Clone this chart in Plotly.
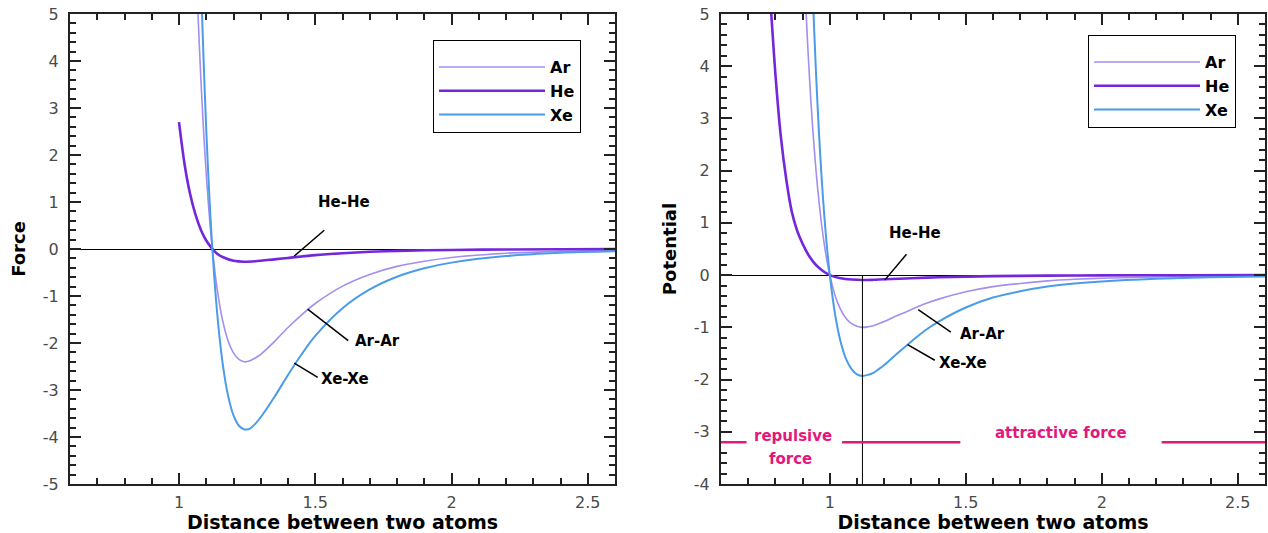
import plotly.graph_objects as go

# ---------------- data ----------------
series_names = ["Ar", "He", "Xe"]
colors = {"Ar": "#A48EEF", "He": "#7327DA", "Xe": "#4B9CE8"}
widths = {"Ar": 1.6, "He": 2.6, "Xe": 2.0}

# Force panel
force_x_arxe = [1.06, 1.07, 1.08, 1.09, 1.10, 1.11, 1.12, 1.14, 1.16, 1.18, 1.20, 1.22, 1.24, 1.26,
                1.28, 1.30, 1.35, 1.40, 1.45, 1.50, 1.60, 1.70, 1.80, 1.90, 2.00, 2.20, 2.40, 2.60]
force_ar = [6.54, 4.97, 3.65, 2.53, 1.59, 0.80, 0.14, -0.85, -1.52, -1.95, -2.21, -2.35, -2.40, -2.38,
            -2.32, -2.24, -1.97, -1.67, -1.40, -1.16, -0.79, -0.54, -0.37, -0.26, -0.18, -0.09, -0.05, -0.03]
force_xe = [10.47, 7.96, 5.83, 4.05, 2.54, 1.28, 0.23, -1.36, -2.43, -3.12, -3.54, -3.76, -3.84, -3.82,
            -3.72, -3.58, -3.15, -2.68, -2.24, -1.85, -1.26, -0.86, -0.59, -0.41, -0.29, -0.15, -0.08, -0.05]
force_x_he = [1.00, 1.02, 1.04, 1.06, 1.08, 1.10, 1.12, 1.14, 1.16, 1.20, 1.24, 1.28, 1.35, 1.40,
              1.50, 1.60, 1.70, 1.80, 2.00, 2.20, 2.60]
force_he = [2.70, 1.82, 1.19, 0.74, 0.41, 0.18, 0.02, -0.10, -0.17, -0.25, -0.27, -0.26, -0.22, -0.19,
            -0.13, -0.09, -0.06, -0.04, -0.02, -0.01, 0.00]

# Potential panel
pot_x_arxe = [0.90, 0.91, 0.92, 0.93, 0.94, 0.95, 0.96, 0.97, 0.98, 0.99, 1.00, 1.02, 1.04, 1.06, 1.08,
              1.10, 1.12, 1.14, 1.16, 1.18, 1.20, 1.25, 1.30, 1.35, 1.40, 1.50, 1.60, 1.70, 1.80, 1.90,
              2.00, 2.20, 2.40, 2.60]
pot_ar = [6.64, 5.36, 4.28, 3.37, 2.61, 1.96, 1.42, 0.96, 0.58, 0.26, 0.00, -0.40, -0.66, -0.83, -0.93,
          -0.98, -1.00, -0.99, -0.97, -0.93, -0.89, -0.77, -0.66, -0.55, -0.46, -0.32, -0.22, -0.16, -0.11,
          -0.08, -0.06, -0.035, -0.02, -0.013]
pot_xe = [12.81, 10.34, 8.27, 6.51, 5.03, 3.79, 2.74, 1.86, 1.12, 0.51, 0.00, -0.77, -1.28, -1.61, -1.80,
          -1.90, -1.93, -1.91, -1.87, -1.80, -1.72, -1.49, -1.27, -1.06, -0.89, -0.62, -0.43, -0.31, -0.22,
          -0.16, -0.12, -0.07, -0.04, -0.025]
pot_x_he = [0.77, 0.78, 0.79, 0.80, 0.82, 0.84, 0.86, 0.88, 0.90, 0.92, 0.94, 0.96, 0.98, 1.00, 1.04,
            1.08, 1.12, 1.16, 1.20, 1.30, 1.40, 1.60, 1.80, 2.00, 2.30, 2.60]
pot_he = [6.5, 5.4, 4.6, 3.85, 2.65, 1.83, 1.22, 0.85, 0.60, 0.40, 0.25, 0.14, 0.06, 0.00, -0.06,
          -0.085, -0.095, -0.09, -0.08, -0.06, -0.04, -0.02, -0.01, -0.006, -0.002, -0.001]

# axis settings
x_range = [0.6, 2.6]
force_range = [-5, 5]
pot_range = [-4, 5]
force_ticks = [-5, -4, -3, -2, -1, 0, 1, 2, 3, 4, 5]
force_ticktext = ["-5", "-4", "-3", "-2", "-1", "0", "1", "2", "3", "4", "5"]
pot_ticks = [-4, -3, -2, -1, 0, 1, 2, 3, 4, 5]
pot_ticktext = ["-4", "-3", "-2", "-1", "0", "1", "2", "3", "4", "5"]
x_title = "Distance between two atoms"
force_title = "Force"
pot_title = "Potential"

# labels: (text, x, y, pointer x0, y0, x1, y1)
force_labels = [("He-He", 1.607, 1.0, 1.533, 0.40, 1.423, -0.15),
                ("Ar-Ar", 1.728, -1.95, 1.472, -1.28, 1.621, -1.95),
                ("Xe-Xe", 1.61, -2.77, 1.423, -2.43, 1.509, -2.73)]
pot_labels = [("He-He", 1.314, 0.80, 1.282, 0.40, 1.202, -0.096),
              ("Ar-Ar", 1.561, -1.12, 1.325, -0.66, 1.445, -1.09),
              ("Xe-Xe", 1.489, -1.69, 1.286, -1.33, 1.386, -1.63)]

# equilibrium marker and force regions on the potential panel
r_eq = 1.12
region_y = -3.2
region_segments = [(0.6, 0.694), (1.045, 1.48), (2.22, 2.6)]
region_texts = [("repulsive", 0.865, -3.09), ("force", 0.855, -3.53), ("attractive force", 1.85, -3.03)]
pink = "#E4177B"

# ---------------- figure ----------------
FONT = "DejaVu Sans"
fig = go.Figure()

force_data = {"Ar": (force_x_arxe, force_ar), "He": (force_x_he, force_he), "Xe": (force_x_arxe, force_xe)}
pot_data = {"Ar": (pot_x_arxe, pot_ar), "He": (pot_x_he, pot_he), "Xe": (pot_x_arxe, pot_xe)}

for name in series_names:
    xs, ys = force_data[name]
    fig.add_trace(go.Scatter(x=xs, y=ys, name=name, mode="lines",
                             line=dict(color=colors[name], width=widths[name], shape="spline", smoothing=0.8),
                             xaxis="x", yaxis="y", legend="legend"))
for name in series_names:
    xs, ys = pot_data[name]
    fig.add_trace(go.Scatter(x=xs, y=ys, name=name, mode="lines",
                             line=dict(color=colors[name], width=widths[name], shape="spline", smoothing=0.8),
                             xaxis="x2", yaxis="y2", legend="legend2"))

W, H = 1268, 533
left_dom = [70 / W, 615 / W]
right_dom = [721 / W, 1265 / W]
y_dom = [1 - 484 / H, 1 - 14 / H]

tickfont = dict(family=FONT, size=16, color="#4a4a4a")
titlefont = dict(family=FONT, size=19, color="black", weight="bold")
ytitlefont = dict(family=FONT, size=18, color="black", weight="bold")

def xaxis_cfg(domain, anchor):
    return dict(domain=domain, anchor=anchor, range=x_range, showgrid=False, zeroline=False,
                automargin=False,
                showline=True, linecolor="#222", linewidth=2, mirror="allticks",
                ticks="inside", ticklen=11, tickwidth=2, tickcolor="#222",
                tick0=0, dtick=0.5, tickfont=tickfont, ticklabelstandoff=3,
                minor=dict(ticks="inside", dtick=0.1, ticklen=6, tickwidth=1.5, tickcolor="#222"),
                title=dict(text=x_title, font=titlefont, standoff=0))

def yaxis_cfg(rng, anchor, title, tv, tt):
    return dict(domain=y_dom, anchor=anchor, range=rng, showgrid=False, automargin=False,
                zeroline=True, zerolinecolor="black", zerolinewidth=1,
                showline=True, linecolor="#222", linewidth=2, mirror="allticks",
                ticks="inside", ticklen=11, tickwidth=2, tickcolor="#222",
                tickmode="array", tickvals=tv, ticktext=tt, tickfont=tickfont, ticklabelstandoff=6,
                minor=dict(ticks="inside", dtick=0.2, tick0=0, ticklen=6, tickwidth=1.5, tickcolor="#222"),
                title=dict(text=title, font=ytitlefont, standoff=13))

legend_common = dict(bordercolor="black", borderwidth=1, bgcolor="white",
                     font=dict(family=FONT, size=16, color="black", weight="bold"),
                     title=dict(text=" ", font=dict(size=7)),
                     xanchor="left", yanchor="top", itemwidth=106, tracegroupgap=0)

shapes = []
annotations = []
for labels, xr, yr in ((force_labels, "x", "y"), (pot_labels, "x2", "y2")):
    for text, tx, ty, x0, y0, x1, y1 in labels:
        annotations.append(dict(text=text, x=tx, y=ty, xref=xr, yref=yr, showarrow=False,
                                font=dict(family=FONT, size=15, color="black", weight="bold")))
        shapes.append(dict(type="line", x0=x0, y0=y0, x1=x1, y1=y1, xref=xr, yref=yr,
                           line=dict(color="black", width=1.5)))

shapes.append(dict(type="line", x0=r_eq, x1=r_eq, y0=0, y1=pot_range[0], xref="x2", yref="y2",
                   line=dict(color="black", width=1)))
for a, b in region_segments:
    shapes.append(dict(type="line", x0=a, x1=b, y0=region_y, y1=region_y, xref="x2", yref="y2",
                       line=dict(color=pink, width=2.5)))
for text, tx, ty in region_texts:
    annotations.append(dict(text=text, x=tx, y=ty, xref="x2", yref="y2", showarrow=False,
                            font=dict(family=FONT, size=15, color=pink, weight="bold")))

fig.update_layout(
    width=W, height=H, margin=dict(l=0, r=0, t=0, b=0, autoexpand=False),
    paper_bgcolor="white", plot_bgcolor="white",
    xaxis=xaxis_cfg(left_dom, "y"), yaxis=yaxis_cfg(force_range, "x", force_title, force_ticks, force_ticktext),
    xaxis2=xaxis_cfg(right_dom, "y2"), yaxis2=yaxis_cfg(pot_range, "x2", pot_title, pot_ticks, pot_ticktext),
    legend=dict(x=433 / W, y=1 - 40 / H, **legend_common),
    legend2=dict(x=1088 / W, y=1 - 35 / H, **legend_common),
    shapes=shapes, annotations=annotations,
)

fig.write_html("out.html")
